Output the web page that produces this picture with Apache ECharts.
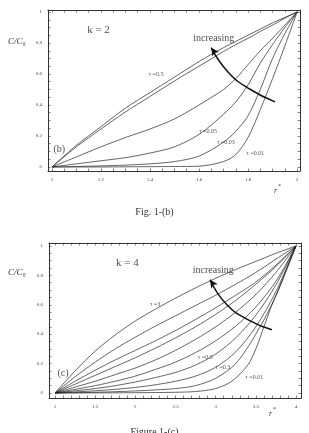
<!DOCTYPE html>
<html>
<head>
<meta charset="utf-8">
<script src="https://cdn.jsdelivr.net/npm/echarts@6/dist/echarts.min.js"></script>
<style>
html, body { margin: 0; padding: 0; background: #fff; }
#main { width: 309px; height: 433px; }
</style>
</head>
<body>
<div id="main"></div>
<script>
// ---- Fig. 1-(b), k = 2 ----
var b_x = [1, 1.1, 1.2, 1.3, 1.4, 1.5, 1.6, 1.7, 1.75, 1.8, 1.85, 1.9, 1.95, 2];
var b_tau1 = [0, 0.14, 0.26, 0.38, 0.48, 0.58, 0.68, 0.77, 0.81, 0.85, 0.89, 0.93, 0.965, 1];
var b_tau05 = [0, 0.13, 0.245, 0.355, 0.455, 0.555, 0.65, 0.745, 0.79, 0.83, 0.875, 0.915, 0.96, 1];
var b_tau01 = [0, 0.065, 0.13, 0.19, 0.245, 0.31, 0.40, 0.50, 0.57, 0.66, 0.75, 0.83, 0.915, 1];
var b_tau005 = [0, 0.02, 0.04, 0.06, 0.09, 0.13, 0.21, 0.34, 0.42, 0.53, 0.67, 0.79, 0.9, 1];
var b_tau003 = [0, 0.003, 0.007, 0.012, 0.02, 0.035, 0.07, 0.16, 0.23, 0.33, 0.50, 0.70, 0.86, 1];
var b_tau001 = [0, 0, 0, 0.001, 0.002, 0.003, 0.005, 0.035, 0.08, 0.19, 0.37, 0.57, 0.78, 1];
var b_arrow = [[1.91, 0.42], [1.81, 0.50], [1.72, 0.61], [1.65, 0.77]];
var b_xticks = [1, 1.2, 1.4, 1.6, 1.8, 2];
var b_yticks = [0, 0.2, 0.4, 0.6, 0.8, 1];

// ---- Figure 1-(c), k = 4 ----
var c_x = [1, 1.25, 1.5, 1.75, 2, 2.25, 2.5, 2.75, 3, 3.25, 3.5, 3.75, 4];
var c_tau3 = [0, 0.15, 0.285, 0.395, 0.49, 0.57, 0.645, 0.715, 0.78, 0.84, 0.895, 0.95, 1];
var c_c2 = [0, 0.11, 0.21, 0.30, 0.38, 0.455, 0.525, 0.595, 0.665, 0.74, 0.82, 0.91, 1];
var c_c3 = [0, 0.08, 0.155, 0.225, 0.29, 0.355, 0.425, 0.50, 0.58, 0.665, 0.755, 0.87, 1];
var c_c4 = [0, 0.06, 0.12, 0.18, 0.24, 0.305, 0.375, 0.45, 0.535, 0.63, 0.74, 0.86, 1];
var c_c5 = [0, 0.04, 0.08, 0.125, 0.17, 0.225, 0.29, 0.365, 0.45, 0.55, 0.67, 0.82, 1];
var c_tau05 = [0, 0.025, 0.05, 0.08, 0.115, 0.16, 0.21, 0.275, 0.355, 0.455, 0.585, 0.76, 1];
var c_tau03 = [0, 0.015, 0.03, 0.05, 0.075, 0.105, 0.14, 0.19, 0.265, 0.375, 0.53, 0.735, 1];
var c_c8 = [0, 0.007, 0.015, 0.025, 0.038, 0.056, 0.08, 0.115, 0.175, 0.28, 0.45, 0.69, 1];
var c_c9 = [0, 0.002, 0.005, 0.009, 0.014, 0.021, 0.03, 0.05, 0.1, 0.2, 0.4, 0.66, 1];
var c_x001 = [1, 2, 2.5, 2.75, 3, 3.2, 3.4, 3.5, 3.6, 3.7, 3.8, 3.9, 4];
var c_tau001 = [0, 0.002, 0.005, 0.01, 0.03, 0.08, 0.19, 0.30, 0.45, 0.60, 0.73, 0.87, 1];
var c_arrow = [[3.70, 0.43], [3.43, 0.49], [3.14, 0.60], [2.93, 0.77]];
var c_xticks = [1, 1.5, 2, 2.5, 3, 3.5, 4];
var c_yticks = [0, 0.2, 0.4, 0.6, 0.8, 1];

// text inside the plots: [x, y, text, fontSize]
var b_notes = [[1.19, 0.884, 'k = 2', 11], [1.66, 0.83, 'increasing', 10], [1.425, 0.60, 'τ =0.5', 6],
    [1.637, 0.232, 'τ =0.05', 6], [1.71, 0.16, 'τ =0.03', 6], [1.83, 0.09, 'τ =0.01', 6], [1.03, 0.116, '(b)', 10]];
var c_notes = [[1.90, 0.884, 'k = 4', 11], [2.97, 0.837, 'increasing', 10], [2.245, 0.605, 'τ =3', 6],
    [2.87, 0.245, 'τ =0.5', 6], [3.09, 0.177, 'τ =0.3', 6], [3.48, 0.109, 'τ =0.01', 6], [1.10, 0.136, '(c)', 10]];

var serif = 'Liberation Serif';

function zip(xs, ys) {
    var out = [];
    for (var i = 0; i < xs.length; i++) out.push([xs[i], ys[i]]);
    return out;
}
function minorList(min, max, step) {
    var out = [];
    for (var v = min; v <= max + 1e-9; v += step) out.push(+v.toFixed(3));
    return out;
}
function fmt(v) { return String(+(+v).toFixed(2)); }

function axisPair(dim, grid, min, max, majors, minors) {
    var line = {show: true, onZero: false, lineStyle: {color: '#333', width: 1}};
    var main = {
        type: 'value', gridIndex: grid, min: min, max: max,
        position: dim === 'x' ? 'bottom' : 'left',
        splitLine: {show: false}, axisLine: line,
        axisTick: {inside: true, length: 2.5, customValues: minors, lineStyle: {color: '#333', width: 0.6}},
        axisLabel: {customValues: majors, formatter: fmt, fontSize: 5, color: '#444', fontFamily: serif, margin: 6}
    };
    var other = {
        type: 'value', gridIndex: grid, min: min, max: max,
        position: dim === 'x' ? 'top' : 'right',
        splitLine: {show: false}, axisLine: line,
        axisTick: {inside: true, length: 2.5, customValues: minors, lineStyle: {color: '#333', width: 0.6}},
        axisLabel: {show: false}
    };
    return [main, other];
}

function curve(name, data, xi, yi) {
    return {
        name: name, type: 'line', xAxisIndex: xi, yAxisIndex: yi, data: data,
        smooth: 0.3, showSymbol: false, symbol: 'none', silent: true,
        lineStyle: {color: '#222', width: 0.7}
    };
}
function arrow(pts, xi, yi) {
    var data = pts.slice(0, -1);
    var tip = pts[pts.length - 1];
    data.push({value: tip, symbol: 'arrow', symbolSize: [6, 8], symbolRotate: 34, itemStyle: {color: '#111'}});
    return {
        type: 'line', xAxisIndex: xi, yAxisIndex: yi, data: data, smooth: true,
        symbol: 'none', showSymbol: true, silent: true,
        lineStyle: {color: '#111', width: 1.5}
    };
}
function notes(list, xi, yi) {
    return {
        type: 'scatter', xAxisIndex: xi, yAxisIndex: yi, symbolSize: 0, silent: true,
        data: list.map(function (n) {
            return {value: [n[0], n[1]], label: {show: true, position: 'inside', formatter: n[2],
                fontSize: n[3], fontFamily: serif, color: '#222'}};
        })
    };
}

var chart = echarts.init(document.getElementById('main'), null, {renderer: 'canvas'});

var xAxes = axisPair('x', 0, 0.984, 2.012, b_xticks, minorList(1, 2, 0.05))
    .concat(axisPair('x', 1, 0.925, 4.062, c_xticks, minorList(1, 4, 0.1)));
var yAxes = axisPair('y', 0, -0.026, 1.013, b_yticks, minorList(0, 1, 0.05))
    .concat(axisPair('y', 1, -0.034, 1.02, c_yticks, minorList(0, 1, 0.05)));

var option = {
    animation: false,
    backgroundColor: '#fff',
    grid: [
        {left: 48, top: 10, width: 252, height: 161},
        {left: 49, top: 243, width: 252, height: 155}
    ],
    xAxis: xAxes,
    yAxis: yAxes,
    series: [
        curve('τ=1', zip(b_x, b_tau1), 0, 0),
        curve('τ=0.5', zip(b_x, b_tau05), 0, 0),
        curve('τ=0.1', zip(b_x, b_tau01), 0, 0),
        curve('τ=0.05', zip(b_x, b_tau005), 0, 0),
        curve('τ=0.03', zip(b_x, b_tau003), 0, 0),
        curve('τ=0.01', zip(b_x, b_tau001), 0, 0),
        arrow(b_arrow, 0, 0),
        notes(b_notes, 0, 0),

        curve('τ=3', zip(c_x, c_tau3), 2, 2),
        curve('c2', zip(c_x, c_c2), 2, 2),
        curve('c3', zip(c_x, c_c3), 2, 2),
        curve('c4', zip(c_x, c_c4), 2, 2),
        curve('c5', zip(c_x, c_c5), 2, 2),
        curve('τ=0.5', zip(c_x, c_tau05), 2, 2),
        curve('τ=0.3', zip(c_x, c_tau03), 2, 2),
        curve('c8', zip(c_x, c_c8), 2, 2),
        curve('c9', zip(c_x, c_c9), 2, 2),
        curve('τ=0.01', zip(c_x001, c_tau001), 2, 2),
        arrow(c_arrow, 2, 2),
        notes(c_notes, 2, 2)
    ],
    graphic: [
        {type: 'text', left: 8, top: 37, style: {text: 'C/C₀', font: 'italic 9px "Liberation Serif"', fill: '#333'}},
        {type: 'text', left: 8, top: 268, style: {text: 'C/C₀', font: 'italic 9px "Liberation Serif"', fill: '#333'}},
        {type: 'text', left: 274, top: 187, style: {text: 'r', font: 'italic 8px "Liberation Serif"', fill: '#333'}},
        {type: 'text', left: 278, top: 183, style: {text: '*', font: '6px "Liberation Serif"', fill: '#333'}},
        {type: 'text', left: 269, top: 410, style: {text: 'r', font: 'italic 8px "Liberation Serif"', fill: '#333'}},
        {type: 'text', left: 273, top: 406, style: {text: '*', font: '6px "Liberation Serif"', fill: '#333'}},
        {type: 'text', left: 'center', top: 207, style: {text: 'Fig. 1-(b)', font: '10px "Liberation Serif"', fill: '#333'}},
        {type: 'text', left: 'center', top: 427, style: {text: 'Figure 1-(c)', font: '10px "Liberation Serif"', fill: '#333'}}
    ]
};
chart.setOption(option);
</script>
</body>
</html>
